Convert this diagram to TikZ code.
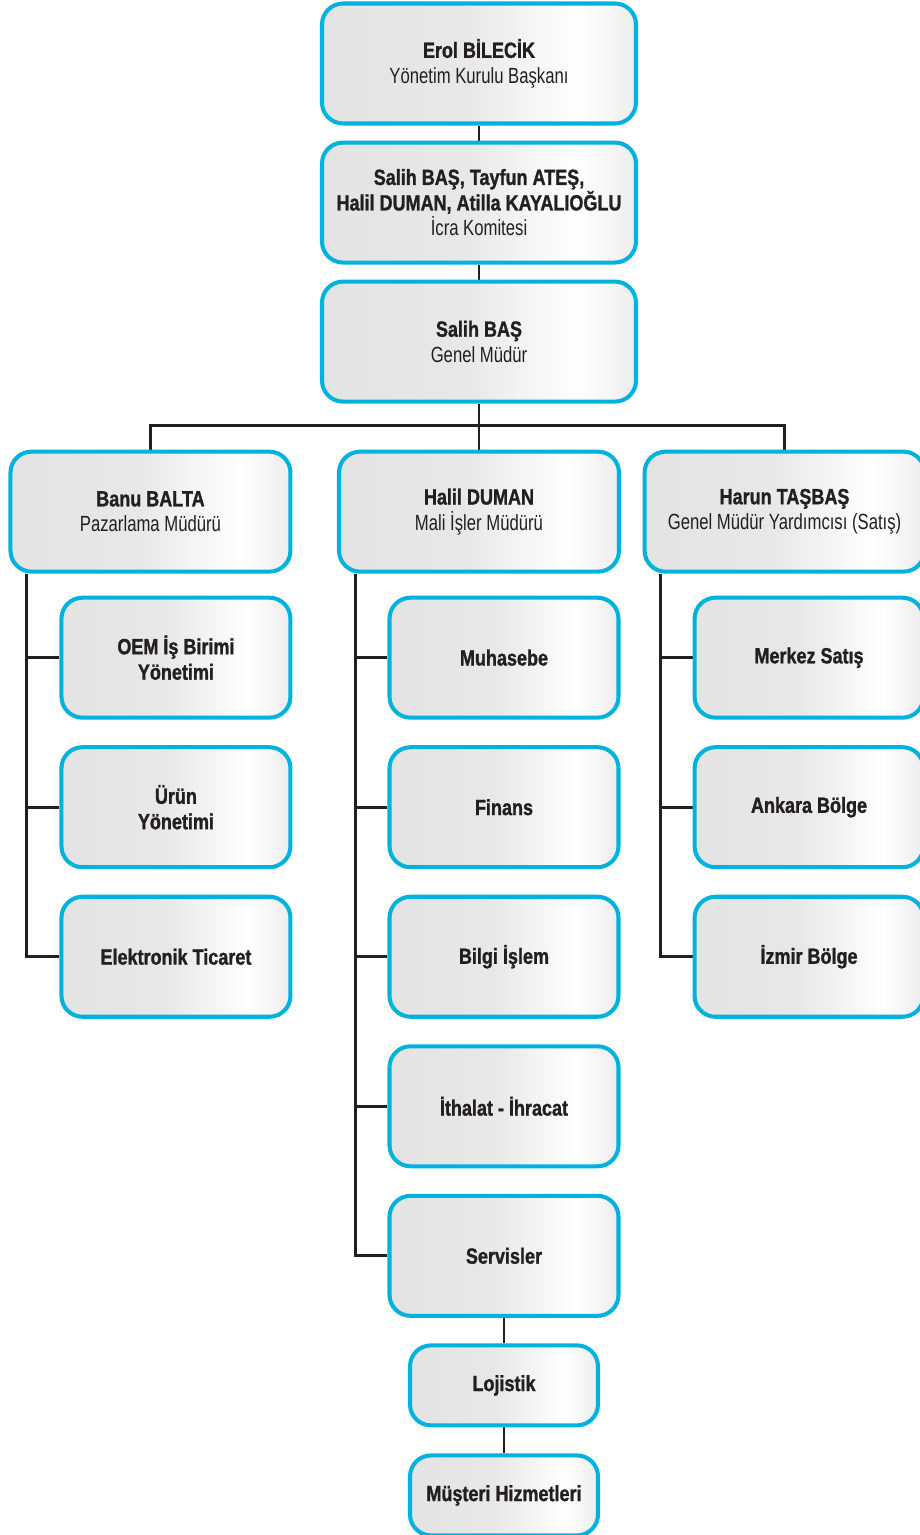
\documentclass[tikz,border=0pt]{standalone}
\usepackage{fontspec}
\setmainfont{Liberation Sans}[UprightFeatures={FakeStretch=0.76}, BoldFeatures={FakeStretch=0.82, FakeBold=1.2}]
\usepackage{tikz}
\usetikzlibrary{positioning, backgrounds}
\definecolor{boxcyan}{RGB}{0,178,222}
\definecolor{linegray}{RGB}{35,31,32}
\pgfdeclarehorizontalshading{sheen}{100bp}{color(0bp)=(black!13); color(48bp)=(black!9); color(66bp)=(white); color(80bp)=(black!11); color(100bp)=(black!17)}

\begin{document}
\begin{tikzpicture}[
    node distance=0.51cm and 0.55cm,
    chartbox/.style={
        rectangle,
        rounded corners=0.42cm,
        draw=boxcyan,
        line width=2.3pt,
        shade,
        shading=sheen,
        align=center,
        text=linegray,
        font=\fontsize{12.5}{14.5}\selectfont
    },
    topbox/.style={
        chartbox,
        minimum width=6.28cm,
        minimum height=2.4cm
    },
    headbox/.style={
        chartbox,
        minimum width=5.6cm,
        minimum height=2.4cm
    },
    unitbox/.style={
        chartbox,
        minimum width=4.58cm,
        minimum height=2.4cm,
        font=\fontsize{12.5}{14.5}\selectfont\bfseries
    },
    smallbox/.style={
        chartbox,
        minimum width=3.76cm,
        minimum height=1.6cm,
        font=\fontsize{12.5}{14.5}\selectfont\bfseries
    },
    conn/.style={
        line width=1.7pt,
        draw=linegray
    }
]
\useasboundingbox (0,0) rectangle (18.4,-30.7);
% TOP CHAIN
\node (erol) [topbox] at (9.58,-1.27) {{\bfseries Erol BİLECİK}\\Yönetim Kurulu Başkanı};
\node (icra) [topbox, below=0.3cm of erol] {{\bfseries Salih BAŞ, Tayfun ATEŞ,}\\{\bfseries Halil DUMAN, Atilla KAYALIOĞLU}\\İcra Komitesi};
\node (gm) [topbox, below=0.3cm of icra] {{\bfseries Salih BAŞ}\\Genel Müdür};
% DEPARTMENT HEADS
\node (halil) [headbox, below=0.92cm of gm] {{\bfseries Halil DUMAN}\\Mali İşler Müdürü};
\node (banu) [headbox, left=0.89cm of halil] {{\bfseries Banu BALTA}\\Pazarlama Müdürü};
\node (harun) [headbox, right=0.43cm of halil] {{\bfseries Harun TAŞBAŞ}\\Genel Müdür Yardımcısı (Satış)};
% MARKETING UNITS
\node (oem) [unitbox, below=0.44cm of banu, xshift=0.51cm] {OEM İş Birimi\\Yönetimi};
\node (urun) [unitbox, below=of oem] {Ürün\\Yönetimi};
\node (eticaret) [unitbox, below=of urun] {Elektronik Ticaret};
% FINANCE UNITS
\node (muhasebe) [unitbox, below=0.44cm of halil, xshift=0.5cm] {Muhasebe};
\node (finans) [unitbox, below=of muhasebe] {Finans};
\node (bilgi) [unitbox, below=of finans] {Bilgi İşlem};
\node (ithalat) [unitbox, below=of bilgi] {İthalat - İhracat};
\node (servis) [unitbox, below=of ithalat] {Servisler};
\node (lojistik) [smallbox, below=of servis] {Lojistik};
\node (musteri) [smallbox, below=0.52cm of lojistik] {Müşteri Hizmetleri};
% SALES UNITS
\node (merkez) [unitbox, below=0.44cm of harun, xshift=0.49cm] {Merkez Satış};
\node (ankara) [unitbox, below=of merkez] {Ankara Bölge};
\node (izmir) [unitbox, below=of ankara] {İzmir Bölge};
% CONNECTORS
\begin{scope}[on background layer]
\draw [conn] (erol.south) -- (icra.north);
\draw [conn] (icra.south) -- (gm.north);
\coordinate (bus) at ([yshift=0.48cm]halil.north);
\draw [conn] (gm.south) -- (halil.north);
\draw [conn] (banu.north) |- (bus) -| (harun.north);
% SPINES
\coordinate (lspine) at ([xshift=0.37cm]banu.south west);
\coordinate (mspine) at ([xshift=0.37cm]halil.south west);
\coordinate (rspine) at ([xshift=0.36cm]harun.south west);
\draw [conn] (lspine) |- (eticaret.west);
\draw [conn] (lspine |- oem.west) -- (oem.west);
\draw [conn] (lspine |- urun.west) -- (urun.west);
\draw [conn] (mspine) |- (servis.west);
\draw [conn] (mspine |- muhasebe.west) -- (muhasebe.west);
\draw [conn] (mspine |- finans.west) -- (finans.west);
\draw [conn] (mspine |- bilgi.west) -- (bilgi.west);
\draw [conn] (mspine |- ithalat.west) -- (ithalat.west);
\draw [conn] (rspine) |- (izmir.west);
\draw [conn] (rspine |- merkez.west) -- (merkez.west);
\draw [conn] (rspine |- ankara.west) -- (ankara.west);
% LOGISTICS CHAIN
\draw [conn] (servis.south) -- (lojistik.north);
\draw [conn] (lojistik.south) -- (musteri.north);
\end{scope}
\end{tikzpicture}
\end{document}
